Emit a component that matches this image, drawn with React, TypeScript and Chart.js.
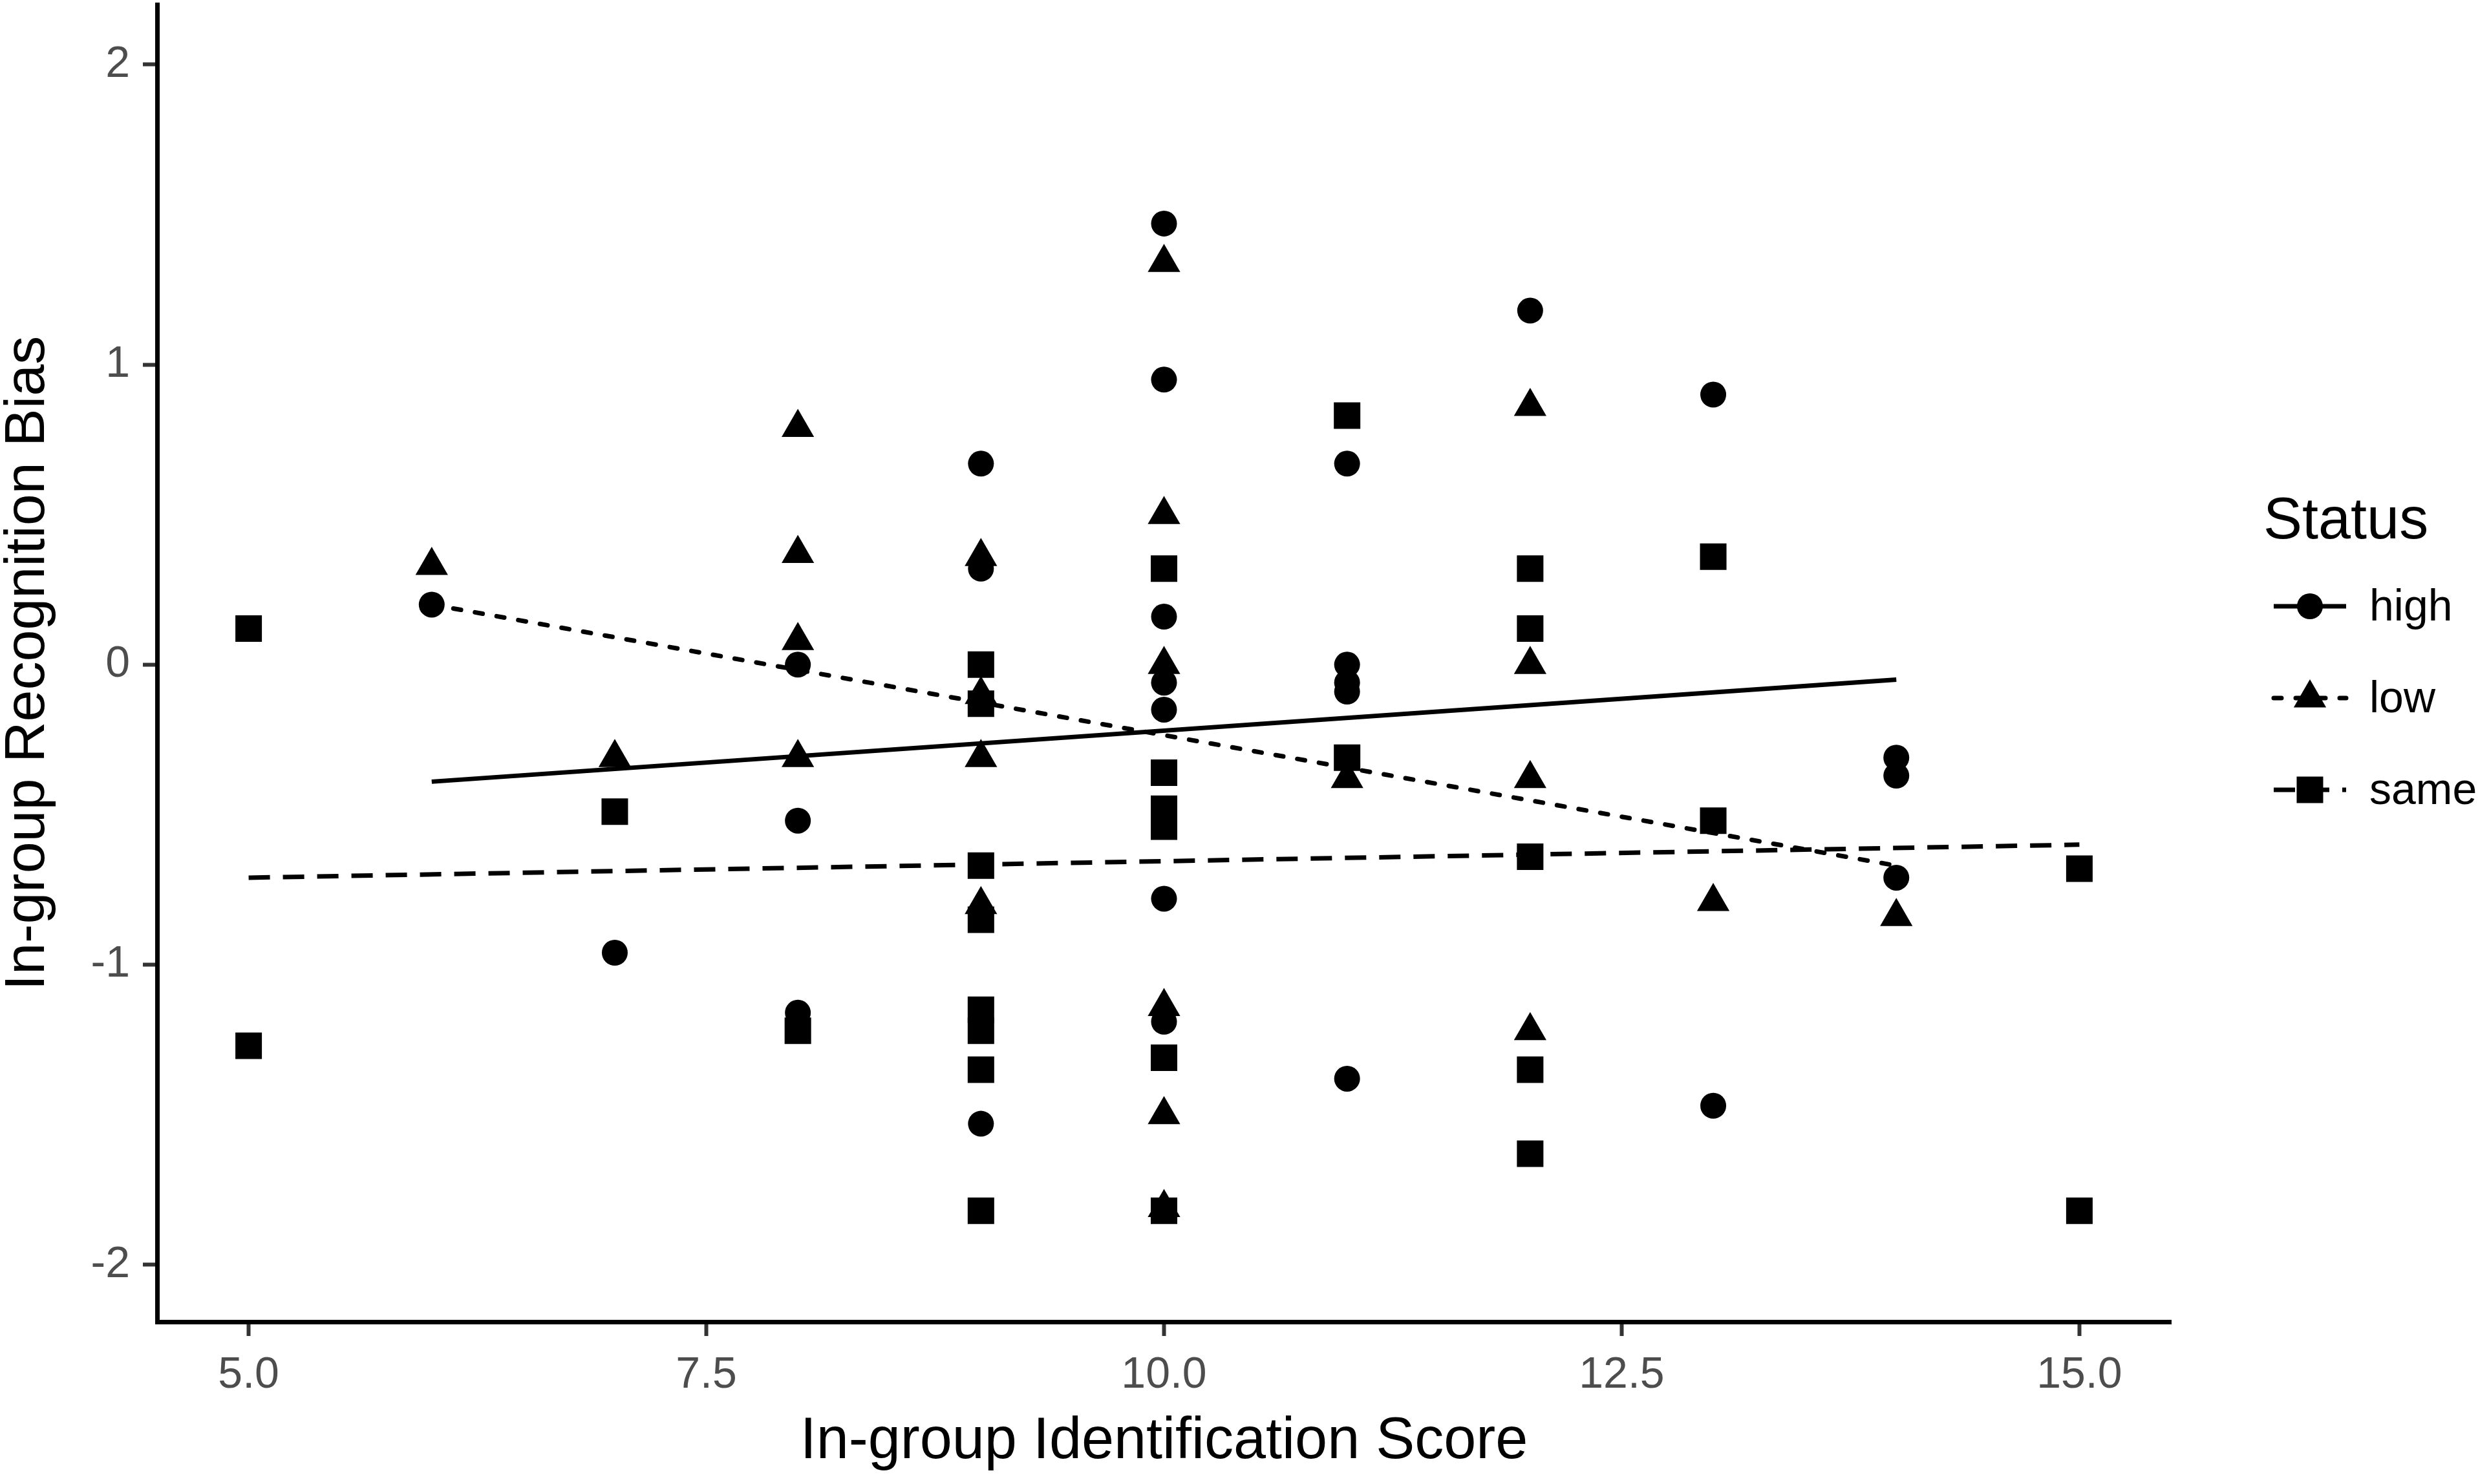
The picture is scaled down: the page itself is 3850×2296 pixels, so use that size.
import React, { useEffect, useRef } from "react";
import { Chart, registerables } from "chart.js";

Chart.register(...registerables);

const FONT = "'Liberation Sans', Arial, sans-serif";

const xTickValues = [5, 7.5, 10, 12.5, 15];
const yTickValues = [-2, -1, 0, 1, 2];

const legendTitle = "Status";
const groupNames = ["high", "low", "same"];

// high status (circles)
const highX = [6, 7, 8, 8, 8, 9, 9, 9, 10, 10, 10, 10, 10, 10, 10, 11, 11, 11, 11, 11, 12, 13, 13, 14, 14, 14];
const highY = [0.2, -0.96, 0.0, -0.52, -1.16, 0.67, 0.32, -1.53, 1.47, 0.95, 0.16, -0.06, -0.15, -0.78, -1.19, 0.67, 0.0, -0.06, -0.09, -1.38, 1.18, 0.9, -1.47, -0.31, -0.37, -0.71];

// low status (triangles)
const lowX = [6, 7, 8, 8, 8, 8, 9, 9, 9, 9, 10, 10, 10, 10, 10, 10, 11, 12, 12, 12, 12, 13, 14];
const lowY = [0.33, -0.31, 0.79, 0.37, 0.08, -0.31, 0.36, -0.1, -0.31, -0.8, 1.34, 0.5, 0.0, -1.14, -1.5, -1.81, -0.38, 0.86, 0.0, -0.38, -1.22, -0.79, -0.84];

// same status (squares)
const sameX = [5, 5, 7, 8, 9, 9, 9, 9, 9, 9, 9, 9, 10, 10, 10, 10, 10, 10, 11, 11, 12, 12, 12, 12, 12, 13, 13, 15, 15];
const sameY = [0.12, -1.27, -0.49, -1.22, 0.0, -0.13, -0.67, -0.85, -1.15, -1.22, -1.35, -1.82, 0.32, -0.36, -0.48, -0.54, -1.31, -1.82, 0.83, -0.31, 0.32, 0.12, -0.64, -1.35, -1.63, 0.36, -0.52, -0.68, -1.82];

// fitted lines, end points
const highLineX = [6, 14];
const highLineY = [-0.39, -0.05];
const lowLineX = [6, 14];
const lowLineY = [0.2, -0.67];
const sameLineX = [5, 15];
const sameLineY = [-0.71, -0.6];

const toPoints = (xs: number[], ys: number[]) => xs.map((x, i) => ({ x, y: ys[i] }));

const shapes = ["circle", "triangle", "rect"];
const dashes: number[][] = [[], [12, 22], [33, 20]];
const caps: CanvasLineCap[] = ["butt", "round", "butt"];

const drawMarker = (ctx: CanvasRenderingContext2D, shape: string, x: number, y: number) => {
  ctx.beginPath();
  if (shape === "circle") {
    ctx.arc(x, y, 20, 0, Math.PI * 2);
  } else if (shape === "triangle") {
    const r = 29;
    ctx.moveTo(x, y - r);
    ctx.lineTo(x + 0.866 * r, y + r / 2);
    ctx.lineTo(x - 0.866 * r, y + r / 2);
    ctx.closePath();
  } else {
    const h = 20.5;
    ctx.rect(x - h, y - h, 2 * h, 2 * h);
  }
  ctx.fill();
};

// legend on the right, drawn by hand so each key shows line type + shape
const legendPlugin = {
  id: "statusLegend",
  afterDraw(chart: Chart) {
    const ctx = chart.ctx;
    ctx.save();
    ctx.fillStyle = "#000";
    ctx.font = `90px ${FONT}`;
    ctx.textAlign = "left";
    ctx.textBaseline = "alphabetic";
    ctx.fillText(legendTitle, 3501, 833);

    groupNames.forEach((name, i) => {
      const y = 938 + i * 142;
      ctx.strokeStyle = "#000";
      ctx.lineWidth = 7;
      ctx.lineCap = caps[i];
      ctx.setLineDash(dashes[i]);
      ctx.beginPath();
      ctx.moveTo(3517, y);
      ctx.lineTo(3629, y);
      ctx.stroke();
      ctx.setLineDash([]);
      ctx.fillStyle = "#000";
      drawMarker(ctx, shapes[i], 3573, y);
      ctx.font = `68px ${FONT}`;
      ctx.textBaseline = "middle";
      ctx.fillText(name, 3665, y + 3);
    });
    ctx.restore();
  },
};

const App: React.FC = () => {
  const canvasRef = useRef<HTMLCanvasElement | null>(null);

  useEffect(() => {
    const ctx = canvasRef.current?.getContext("2d");
    if (!ctx) return;

    const pointSet = (label: string, xs: number[], ys: number[], style: string, radius: number) => ({
      type: "scatter" as const,
      label,
      data: toPoints(xs, ys),
      pointStyle: style,
      pointRadius: radius,
      pointBackgroundColor: "#000",
      pointBorderWidth: 0,
      showLine: false,
    });

    const lineSet = (label: string, xs: number[], ys: number[], i: number) => ({
      type: "scatter" as const,
      label,
      data: toPoints(xs, ys),
      showLine: true,
      borderColor: "#000",
      borderWidth: 7,
      borderDash: dashes[i],
      borderCapStyle: caps[i],
      pointRadius: 0,
    });

    const chart = new Chart(ctx, {
      type: "scatter",
      data: {
        datasets: [
          pointSet("high", highX, highY, "circle", 20),
          pointSet("low", lowX, lowY, "triangle", 29),
          pointSet("same", sameX, sameY, "rect", 29),
          lineSet("high fit", highLineX, highLineY, 0),
          lineSet("low fit", lowLineX, lowLineY, 1),
          lineSet("same fit", sameLineX, sameLineY, 2),
        ],
      },
      options: {
        animation: false,
        responsive: true,
        maintainAspectRatio: false,
        devicePixelRatio: 1,
        layout: { autoPadding: false, padding: { top: 7, right: 492, bottom: 0, left: 0 } },
        plugins: {
          legend: { display: false },
          tooltip: { enabled: false },
        },
        scales: {
          x: {
            type: "linear",
            min: 4.5,
            max: 15.5,
            afterFit: (scale: any) => {
              scale.height = 251;
              scale.paddingLeft = 0;
              scale.paddingRight = 0;
            },
            afterBuildTicks: (scale: any) => {
              scale.ticks = xTickValues.map((v) => ({ value: v }));
            },
            grid: {
              display: true,
              drawOnChartArea: false,
              drawTicks: true,
              tickLength: 22,
              tickWidth: 6,
              tickColor: "#333333",
            },
            border: { display: true, color: "#000", width: 7 },
            ticks: {
              color: "#4D4D4D",
              padding: 20,
              font: { family: FONT, size: 68 },
              callback: (v: any) => Number(v).toFixed(1),
            },
            title: {
              display: true,
              text: "In-group Identification Score",
              color: "#000",
              font: { family: FONT, size: 90, lineHeight: 1 },
              padding: { top: 20, bottom: 20 },
            },
          },
          y: {
            type: "linear",
            min: -2.19,
            max: 2.2,
            afterFit: (scale: any) => {
              scale.width = 243;
              scale.paddingTop = 0;
              scale.paddingBottom = 0;
            },
            afterBuildTicks: (scale: any) => {
              scale.ticks = yTickValues.map((v) => ({ value: v }));
            },
            grid: {
              display: true,
              drawOnChartArea: false,
              drawTicks: true,
              tickLength: 22,
              tickWidth: 6,
              tickColor: "#333333",
            },
            border: { display: true, color: "#000", width: 7 },
            ticks: {
              color: "#4D4D4D",
              padding: 20,
              font: { family: FONT, size: 68 },
              callback: (v: any) => String(v),
            },
            title: {
              display: true,
              text: "In-group Recognition Bias",
              color: "#000",
              font: { family: FONT, size: 88, lineHeight: 1 },
              padding: { top: 0, bottom: 0 },
            },
          },
        },
      },
      plugins: [legendPlugin],
    });

    return () => {
      chart.destroy();
    };
  }, []);

  return (
    <div style={{ position: "absolute", left: 0, top: 0, width: "3850px", height: "2296px", background: "#fff" }}>
      <canvas ref={canvasRef} />
    </div>
  );
};

export default App;
